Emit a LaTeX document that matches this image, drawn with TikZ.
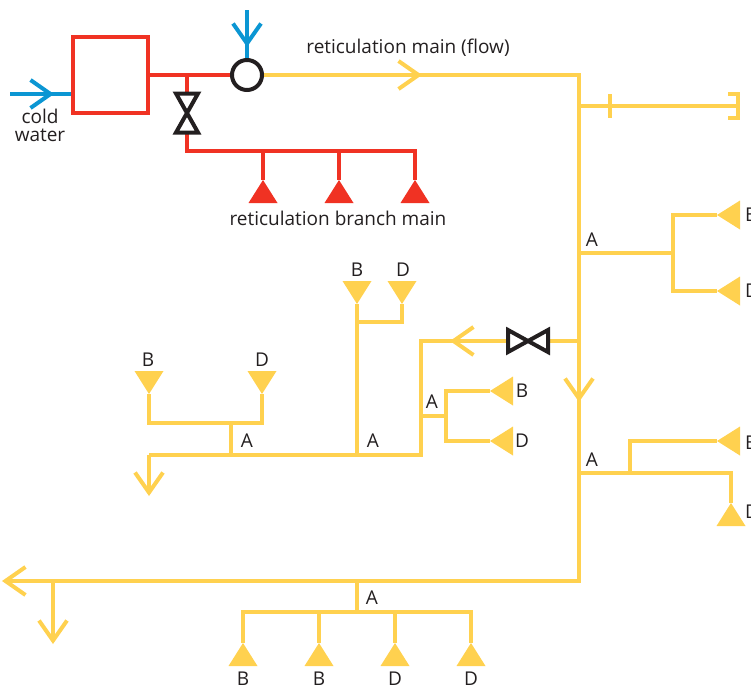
\documentclass[tikz,border=0pt]{standalone}
\usepackage{fontspec}
\setmainfont{Open Sans}
\usetikzlibrary{arrows.meta,shapes.geometric}
\definecolor{pipered}{HTML}{F03223}
\definecolor{pipeyellow}{HTML}{FFD14F}
\definecolor{pipeblue}{HTML}{0B96D3}
\definecolor{pipeblack}{HTML}{231F20}
\tikzset{
	redpipe/.style={draw=pipered, line width=4pt},
	yellowpipe/.style={draw=pipeyellow, line width=4pt},
	bluepipe/.style={draw=pipeblue, line width=4pt},
	flowtip/.style={-{Straight Barb[sharp,length=20pt,width=28pt,line width=4pt]}},
	endcap/.style={draw=pipeyellow, line width=4pt, line join=miter},
	valve/.style={inner sep=0pt, outer sep=0pt},
	valveline/.style={draw=pipeblack, line width=4pt, miter limit=10},
	outlet/.style={isosceles triangle, isosceles triangle stretches, inner sep=0pt, outer sep=0pt, minimum width=29pt, minimum height=23pt},
	outletup/.style={outlet, shape border rotate=90, anchor=apex},
	outletdown/.style={outlet, shape border rotate=270, anchor=apex},
	outletleft/.style={outlet, shape border rotate=180, anchor=apex},
	redout/.style={fill=pipered},
	yellowout/.style={fill=pipeyellow},
	lbl/.style={text=pipeblack, font=\fontsize{19}{18}\selectfont, inner sep=0pt, align=center},
}
\begin{document}
\begin{tikzpicture}[x=1pt, y=-1pt]
	\useasboundingbox (0,0) rectangle (751,689);
	\node (heater) at (110.5,75) [redpipe, inner sep=0pt, minimum width=75pt, minimum height=76pt] {};
	\node (mixer) at (247,75) [draw=pipeblack, line width=4pt, circle, inner sep=0pt, minimum size=30pt] {};
	\node (valvered) at (187,113) [valve, minimum width=22pt, minimum height=39pt] {};
	\node (valveyel) at (528,341) [valve, minimum width=40pt, minimum height=22pt] {};

	\coordinate (coldin) at (10,94);
	\coordinate (coldtip) at (54,94);
	\coordinate (hotin) at (247,10);
	\coordinate (hottip) at (247,47);
	\coordinate (redtee) at (187,75);
	\coordinate (redcornerL) at (187,151);
	\coordinate (redcornerR) at (415,151);

	\node (red1) at (263,180) [outletup, redout] {};
	\node (red2) at (339,180) [outletup, redout] {};
	\node (red3) at (415,180) [outletup, redout] {};

	\coordinate (flowtip) at (422,75);
	\coordinate (maincorner) at (579,75);
	\coordinate (maincornerB) at (579,581);
	\coordinate (maintip) at (579,402);
	\coordinate (mainend) at (2,581);
	\coordinate (stubA) at (579,106);
	\coordinate (stubB) at (738,106);
	\coordinate (tickT) at (610,94);
	\coordinate (tickB) at (610,118);
	\coordinate (capT) at (728,94);
	\coordinate (capTR) at (738,94);
	\coordinate (capBR) at (738,118);
	\coordinate (capB) at (728,118);

	\coordinate (upperA) at (579,253);
	\coordinate (upperM) at (673,253);
	\coordinate (upperT) at (673,215);
	\coordinate (upperB) at (673,291);
	\node (upperoutB) at (717,215) [outletleft, yellowout] {};
	\node (upperoutD) at (717,291) [outletleft, yellowout] {};

	\coordinate (valvetee) at (579,341);
	\coordinate (sidetip) at (450,341);
	\coordinate (sidecorner) at (421,341);
	\coordinate (sidecornerB) at (421,455);
	\coordinate (sidecornerL) at (149,455);
	\coordinate (sideend) at (149,496);
	\coordinate (sideA) at (421,416);
	\coordinate (sideM) at (446,416);
	\coordinate (sideT) at (446,391);
	\coordinate (sideB) at (446,441);
	\node (sideoutB) at (490,391) [outletleft, yellowout] {};
	\node (sideoutD) at (490,441) [outletleft, yellowout] {};

	\coordinate (lowerA) at (579,473);
	\coordinate (lowerM) at (630,473);
	\coordinate (lowerT) at (630,441);
	\coordinate (lowerR) at (731,473);
	\node (loweroutB) at (717,441) [outletleft, yellowout] {};
	\node (loweroutD) at (731,503) [outletup, yellowout] {};

	\coordinate (midA) at (357,455);
	\coordinate (midM) at (357,322);
	\coordinate (midR) at (402,322);
	\node (midoutB) at (357,304) [outletdown, yellowout] {};
	\node (midoutD) at (402,304) [outletdown, yellowout] {};

	\coordinate (leftA) at (231,455);
	\coordinate (leftM) at (231,423);
	\coordinate (leftL) at (149,423);
	\coordinate (leftR) at (262,423);
	\node (leftoutB) at (149,394) [outletdown, yellowout] {};
	\node (leftoutD) at (262,394) [outletdown, yellowout] {};

	\coordinate (deadA) at (53,581);
	\coordinate (deadend) at (53,644);
	\coordinate (lastA) at (357,581);
	\coordinate (lastM) at (357,612);
	\coordinate (lastL) at (243,612);
	\coordinate (lastB) at (319,612);
	\coordinate (lastD) at (395,612);
	\coordinate (lastR) at (471,612);
	\node (lastout1) at (243,643) [outletup, yellowout] {};
	\node (lastout2) at (319,643) [outletup, yellowout] {};
	\node (lastout3) at (395,643) [outletup, yellowout] {};
	\node (lastout4) at (471,643) [outletup, yellowout] {};

	\draw[bluepipe] (coldin) -- (coldin -| heater.west);
	\draw[bluepipe, flowtip] (coldin) -- (coldtip);
	\draw[bluepipe] (hotin) -- (mixer.north);
	\draw[bluepipe, flowtip] (hotin) -- (hottip);

	\draw[redpipe] (heater.east |- redtee) -- (mixer.west);
	\draw[redpipe] (redtee) -- (valvered.north);
	\draw[redpipe] (valvered.south) -- (redcornerL) -- (redcornerR) -- (red3.apex);
	\draw[redpipe] (red1.apex |- redcornerL) -- (red1.apex);
	\draw[redpipe] (red2.apex |- redcornerL) -- (red2.apex);
	\draw[valveline] (valvered.north west) -- (valvered.north east) -- (valvered.south west) -- (valvered.south east) -- cycle;

	\draw[yellowpipe] (mixer.east) -- (maincorner) -- (maincornerB) -- (deadA);
	\draw[yellowpipe, flowtip] (mixer.east) -- (flowtip);
	\draw[yellowpipe, flowtip] (valvetee) -- (maintip);
	\draw[yellowpipe, flowtip] (deadA) -- (mainend);
	\draw[yellowpipe, flowtip] (deadA) -- (deadend);

	\draw[yellowpipe] (stubA) -- (stubB);
	\draw[yellowpipe] (tickT) -- (tickB);
	\draw[endcap] (capT) -- (capTR) -- (capBR) -- (capB);

	\draw[yellowpipe] (upperA) -- (upperM);
	\draw[yellowpipe] (upperoutB.apex) -- (upperT) -- (upperB) -- (upperoutD.apex);

	\draw[yellowpipe] (valvetee) -- (valveyel.east);
	\draw[yellowpipe] (valveyel.west) -- (sidecorner) -- (sidecornerB) -- (sidecornerL);
	\draw[yellowpipe, flowtip] (valveyel.west) -- (sidetip);
	\draw[yellowpipe, flowtip] (sidecornerL) -- (sideend);
	\draw[valveline] (valveyel.north west) -- (valveyel.south east) -- (valveyel.north east) -- (valveyel.south west) -- cycle;
	\draw[yellowpipe] (sideA) -- (sideM);
	\draw[yellowpipe] (sideoutB.apex) -- (sideT) -- (sideB) -- (sideoutD.apex);

	\draw[yellowpipe] (lowerA) -- (lowerR) -- (loweroutD.apex);
	\draw[yellowpipe] (lowerM) -- (lowerT) -- (loweroutB.apex);

	\draw[yellowpipe] (midA) -- (midoutB.apex);
	\draw[yellowpipe] (midM) -- (midR) -- (midoutD.apex);

	\draw[yellowpipe] (leftA) -- (leftM);
	\draw[yellowpipe] (leftoutB.apex) -- (leftL) -- (leftR) -- (leftoutD.apex);

	\draw[yellowpipe] (lastA) -- (lastM);
	\draw[yellowpipe] (lastout1.apex) -- (lastL) -- (lastR) -- (lastout4.apex);
	\draw[yellowpipe] (lastB) -- (lastout2.apex);
	\draw[yellowpipe] (lastD) -- (lastout3.apex);

	\node (coldlabel) at (40,125) [lbl] {cold\\water};
	\node (flowlabel) at (408,48) [lbl] {reticulation main (flow)};
	\node (branchlabel) at (338,218.5) [lbl] {reticulation branch main};

	\node (labelA1) at (592,240) [lbl] {A};
	\node (labelB1) at (745,215) [lbl, anchor=west] {B};
	\node (labelD1) at (745,291) [lbl, anchor=west] {D};
	\node (labelA2) at (432,402) [lbl] {A};
	\node (labelB2) at (522,391) [lbl] {B};
	\node (labelD2) at (522,441) [lbl] {D};
	\node (labelA3) at (592,460) [lbl] {A};
	\node (labelB3) at (745,443) [lbl, anchor=west] {B};
	\node (labelD3) at (745,512) [lbl, anchor=west] {D};
	\node (labelA4) at (373,441) [lbl] {A};
	\node (labelB4) at (357,269.5) [lbl] {B};
	\node (labelD4) at (403,269.5) [lbl] {D};
	\node (labelA5) at (247,441) [lbl] {A};
	\node (labelB5) at (148,359.5) [lbl] {B};
	\node (labelD5) at (262,359.5) [lbl] {D};
	\node (labelA6) at (372,598) [lbl] {A};
	\node (labelB6) at (243,678.5) [lbl] {B};
	\node (labelB7) at (319,678.5) [lbl] {B};
	\node (labelD6) at (395,678.5) [lbl] {D};
	\node (labelD7) at (471,678.5) [lbl] {D};
\end{tikzpicture}
\end{document}
